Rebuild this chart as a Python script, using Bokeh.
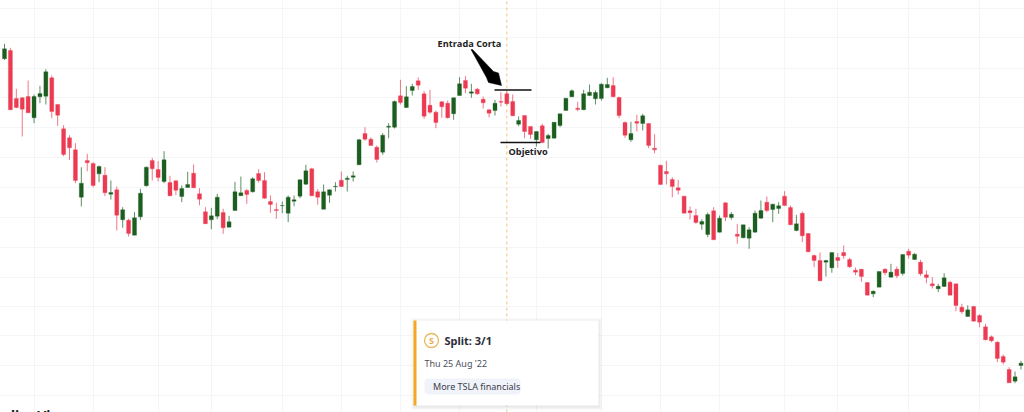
from bokeh.plotting import figure
from bokeh.models import Range1d, FixedTicker, ColumnDataSource, Label
from bokeh.core.properties import value
from bokeh.embed import file_html
from bokeh.resources import INLINE

# Daily OHLC (arbitrary price units; the price scale is not shown)
highs = [368.7,364.7,323.7,315.3,332,318,326.7,343.3,337,308.7,
 287.3,277.3,269.3,245.3,258.7,250.3,247,245.3,232,226,
 205.3,193.7,200.3,223.7,246,254.7,251.3,261.3,236.7,232,
 227,240.7,248,224.3,205.3,204.7,218.7,203.7,196.7,230.7,
 236,223.7,235.3,243.3,240.3,217,209.7,211,217,217,
 233,247.7,244.7,223.3,228,223,230.3,241,236.7,241,
 273.7,285.3,275.3,267,279.3,289.3,312,332.7,326.3,328.7,
 335,321.3,322.7,302,311.3,312,315,335.3,336.3,328.7,
 324.7,316,303.3,312.7,320.3,321.3,318,296,297,286,
 281,288.7,278.7,290.3,298.7,314.3,323,310.7,322.7,328,
 322,329.3,334.7,335.3,316,291,290.7,297.7,298.7,289.3,
 278.3,247.7,251.7,235.3,232.7,216.7,206,203.7,193.3,200,
 205.3,197,210,200.3,188.7,187.7,185.3,202,212,216,
 208.7,210.3,221.3,207,197.7,201,179.3,158,160,152.7,
 160,159.3,167,154.7,145,143.3,130.3,122,141,144.3,
 148.7,146,158,163.7,159.3,152.7,142,135.3,128.7,139.3,
 131.7,128.7,108.7,107.3,106.7,98.3,88.7,77,71.3,58,
 45.3,41,51.7]
lows = [352.7,302.7,304.3,276,299.7,289.3,309.3,308,294.3,286.7,
 256.3,252.7,229.3,206,241.3,225.3,230.3,216.3,213,182,
 184.7,176,177.3,192.7,226,232,231,229.3,216.3,217.3,
 210.3,225,224.3,207.3,188.7,183.3,193.3,178.7,185.3,202,
 216.7,208.7,220,230,213.7,199.7,193.7,199.3,190.3,206.3,
 214.3,227.7,216.3,207.7,203,209.7,221,225.3,221,231,
 247.3,271.7,266.7,250,257.7,274.3,284,308,304.7,317,
 322.7,293.7,298.7,284.3,294.7,294,292.7,316.7,319.3,314.7,
 317.7,304,295,297,306,308,296.7,286.3,274.3,273.7,
 266,269.3,264,274.3,285.3,302,315.3,301.3,302.7,316.3,
 308,312,324.3,315.3,294.3,274.7,270.7,281,282,264.3,
 259.3,228,228,215.3,218,199.3,193,188.7,182.7,175.3,
 172.7,180,191.3,192.7,168.7,174.3,163.7,180,193.7,200.3,
 190.3,198.7,206.7,187.3,181.3,170.3,160.3,145.3,131.3,136,
 139.7,144.7,153.7,144.7,137.3,130.7,117.3,115.3,125.3,137.3,
 135,134.3,137,153.7,152.7,136.7,129.3,124,120.3,125.7,
 117.3,101.3,98.7,95.7,91,85.3,72.3,70.3,50.3,48,
 29.7,29.3,43]
opens = [353.7,362,314,314.7,316,294.7,315.7,316.3,334.7,308,
 283.7,274.7,262.7,215.3,252,249,238.7,237.3,218.3,222.7,
 192.7,192.3,177.3,195.7,226.7,252,243,231,230,231.7,
 216,225,239.3,218.7,200.7,192.7,196.3,200,185.3,202,
 216.7,222,220.7,239,232,211,203,206.7,199.3,211.3,
 216.3,228.3,243.7,220.7,203.3,217.3,225.7,232.3,233,235.3,
 247.7,279,273.3,265.3,260.3,285.3,285.3,316.7,305,322,
 331.7,318.7,307.3,300.3,310.7,309.3,298.7,317,332,319.3,
 323.3,313.3,302.7,302,311,318.7,311,288.3,297,286,
 272.7,286.7,274,274.3,287,302,315.7,304.3,302.7,317,
 313.7,314,324.7,327,315,290,272.7,291,289,289,
 264.3,247.3,241,233,224.7,216.3,201.7,197,188.3,178,
 201.7,180.3,209.7,195,178.3,174.7,174.3,180.3,194.3,210.3,
 203,204,216.3,205,182,199.3,179,157,152,150.3,
 144.7,155,160,153,142.3,143.3,130,118.7,125.3,143.3,
 135.3,143.3,139,161.3,153,150.3,137.7,128.7,123.7,126,
 130.3,128.7,105.3,96,106,97,85.7,75.7,70.3,56,
 43,31.3,47]
closes = [363.7,302.7,305,303.3,299.7,316,319,340.7,301,297.3,
 258,264.7,232,229.3,249.7,227,246,219.7,220,197.3,
 202.7,179,194.7,219.3,245.3,243.7,235,252.7,216.7,222.3,
 224,228,224.7,213.3,188.7,196.7,215.3,184.7,190.7,220.7,
 219.7,218,233.7,232,214.3,208,202,207,215.3,212.7,
 232.7,241.7,216.7,215.3,220.7,222.7,226.3,226,234.3,236.7,
 272.7,273.3,267,253,277.3,286.3,311,310,315.7,326,
 327.3,296.3,300.3,290,305.7,294.7,314.7,328.7,324.3,320.7,
 318.7,309.7,299.3,309.3,310.3,308.7,296.7,292,281,278,
 281,270,277,290.3,298.7,314.3,321.7,303,318.7,320.3,
 320,328.3,328,315.7,297,277.3,279,289.3,296.7,267,
 262.7,228,238.7,226,222.3,199.3,199.7,190,191,198,
 172.7,194.3,195.3,198.3,176.3,187.7,182.7,199.3,202,202,
 208.3,206.7,207,187.7,188.7,176.7,160.7,152,131.7,152,
 160,152,156.7,145.7,140.3,136,117.3,121.3,141,139.7,
 140.3,136.7,158,157.3,158.3,138.7,135,126.7,126.3,134.7,
 117.3,107,100.7,102.7,91.3,90.3,72.7,71.7,54,50.3,
 29.7,35.7,49.3]

# Session positions of the vertical grid lines, and price levels of the horizontal ones
date_grid = [5, 15, 26, 35, 47, 57, 67, 77, 90, 101, 111, 121, 132, 141, 153, 165]
price_grid = [17, 47, 77, 106, 135, 165, 195, 225, 255, 285, 315, 344, 375, 404]
split_session = 85

annotation_entry = "Entrada Corta"
annotation_target = "Objetivo"
entry_price = 322.5
target_price = 270
card_title = "Split:  3/1"
card_date = "Thu 25 Aug '22"
card_button = "More TSLA financials"

RED = "#ec3a52"
GREEN = "#1b5e20"

n = len(highs)
idx = list(range(n))
colors = [GREEN if c >= o else RED for o, c in zip(opens, closes)]
src = ColumnDataSource(dict(
    x=idx, high=highs, low=lows,
    top=[max(o, c) for o, c in zip(opens, closes)],
    bottom=[min(o, c) for o, c in zip(opens, closes)],
    color=colors,
))

p = figure(width=1024, height=412, output_backend="svg", toolbar_location=None,
           x_range=Range1d(-0.677, 172.6), y_range=Range1d(0, 412),
           x_axis_location=None, y_axis_location=None,
           min_border=0, outline_line_color=None, background_fill_color="white",
           border_fill_color="white")
p.extra_x_ranges["px"] = Range1d(0, 1024)

p.xgrid.ticker = FixedTicker(ticks=date_grid)
p.ygrid.ticker = FixedTicker(ticks=price_grid)
for g in (p.xgrid, p.ygrid):
    g.grid_line_color = "#f4f5f6"
    g.grid_line_width = 1

p.segment(x0=[split_session], x1=[split_session], y0=[0], y1=[412],
          line_color="#e9c77d", line_width=1, line_dash="3 3")

p.segment(x0="x", x1="x", y0="low", y1="high", source=src, line_color="color",
          line_width=1, line_alpha=0.7)
p.vbar(x="x", width=0.68, top="top", bottom="bottom", source=src,
       fill_color="color", line_color="color", line_width=0.3)

# Drawn annotations
p.segment(x0=[494], x1=[531], y0=[entry_price], y1=[entry_price], x_range_name="px",
          line_color="#111111", line_width=1.4)
p.segment(x0=[500], x1=[540], y0=[target_price], y1=[target_price], x_range_name="px",
          line_color="#111111", line_width=1.4)
p.patch(x=[470.5, 472, 493, 498, 501, 488, 486], y=[363, 363, 341, 339.5, 327, 330, 335],
        x_range_name="px", fill_color="black", line_color="black", line_width=0.5)
p.text(x=[437], y=[369], text=[annotation_entry], x_range_name="px", text_font=value("Open Sans"),
       text_font_style="bold", text_font_size="9.2px", text_baseline="middle", text_color="#222222")
p.text(x=[508], y=[261], text=[annotation_target], x_range_name="px", text_font=value("Open Sans"),
       text_font_style="bold", text_font_size="9.2px", text_baseline="middle", text_color="#222222")

# Split card
for grow, alpha in ((4, 0.012), (3, 0.018), (2, 0.025), (1, 0.035)):
    p.quad(left=[413 - grow + 1], right=[598 + grow], top=[92 + grow - 1], bottom=[7 - grow - 1],
           x_range_name="px", fill_color="black", fill_alpha=alpha, line_color=None)
p.quad(left=[413], right=[598], top=[92], bottom=[7], x_range_name="px",
       fill_color="white", line_color=None)
p.quad(left=[413], right=[416], top=[92], bottom=[7], x_range_name="px",
       fill_color="#f5a623", line_color=None)
p.scatter(x=[431], y=[72], size=14, x_range_name="px", fill_color="white",
          line_color="#e8b85c", line_width=1.3)
p.text(x=[431], y=[72], text=["S"], x_range_name="px", text_font=value("Noto Sans"), text_font_size="9px",
       text_font_style="bold", text_align="center", text_baseline="middle", text_color="#e8ad4a")
p.text(x=[444], y=[72], text=[card_title], x_range_name="px", text_font=value("Noto Sans"),
       text_font_style="bold", text_font_size="11px", text_baseline="middle", text_color="#2a2e39")
p.text(x=[424], y=[49.5], text=[card_date], x_range_name="px", text_font=value("Noto Sans"),
       text_font_size="9px", text_baseline="middle", text_color="#4a4e59")
p.quad(left=[424], right=[520], top=[34], bottom=[18], x_range_name="px",
       fill_color="#f0f3fa", line_color=None, border_radius=4)
p.text(x=[432.5], y=[26], text=[card_button], x_range_name="px", text_font=value("Noto Sans"),
       text_font_size="9px", text_baseline="middle", text_color="#3a3e49")

# Watermark, cut off by the bottom edge
p.add_layout(Label(x=70, y=-3, x_range_name="px", text="TradingView", text_font="Noto Sans",
                   text_font_style="bold", text_font_size="14px", text_align="right",
                   text_baseline="alphabetic", text_color="#1c1c1c"))

open("out.html", "w").write(file_html(p, INLINE))
